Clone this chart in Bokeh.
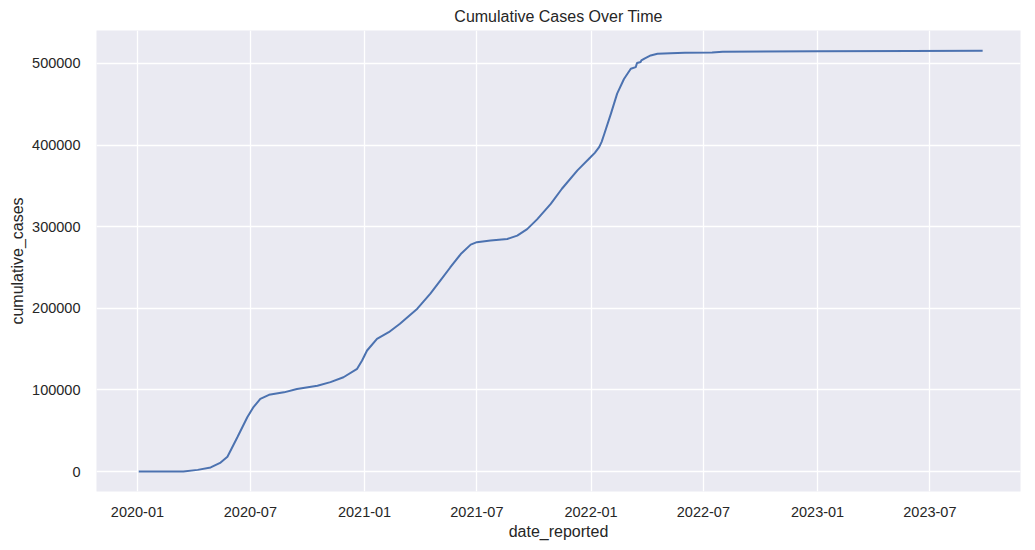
import pandas as pd
from bokeh.plotting import figure
from bokeh.models import FixedTicker, DatetimeTickFormatter, Range1d, NumeralTickFormatter, ColumnDataSource
from bokeh.embed import file_html
from bokeh.resources import INLINE

# ---- data ----
dates = [
    "2020-01-03", "2020-02-15", "2020-03-15", "2020-04-07", "2020-04-28", "2020-05-14",
    "2020-05-25", "2020-06-10", "2020-06-26", "2020-07-06", "2020-07-17", "2020-07-31",
    "2020-08-24", "2020-09-14", "2020-10-17", "2020-11-07", "2020-11-28", "2020-12-20",
    "2020-12-28", "2021-01-05", "2021-01-21", "2021-02-09", "2021-02-27", "2021-03-27",
    "2021-04-17", "2021-05-03", "2021-05-19", "2021-06-05", "2021-06-21", "2021-07-01",
    "2021-07-23", "2021-08-19", "2021-09-04", "2021-09-20", "2021-10-06", "2021-10-28",
    "2021-11-15", "2021-12-10", "2021-12-31", "2022-01-07", "2022-01-14", "2022-01-18",
    "2022-01-22", "2022-02-02", "2022-02-12", "2022-02-23", "2022-03-06", "2022-03-14",
    "2022-03-16", "2022-03-22", "2022-03-23", "2022-03-28", "2022-04-07", "2022-04-18",
    "2022-05-09", "2022-06-01", "2022-07-15", "2022-08-01", "2023-01-01", "2023-06-01",
    "2023-09-24",
]
cumulative_cases = [
    0, 0, 0, 2000, 5000, 11000,
    18000, 42000, 66500, 79000, 89000, 94000,
    97000, 101000, 105000, 109500, 115500, 125800,
    136000, 148300, 162600, 170700, 181000, 199500,
    218000, 234000, 250000, 266500, 278000, 281000,
    283000, 285000, 289000, 297000, 309000, 328000,
    346500, 369000, 385000, 390500, 397500, 404000,
    413000, 438500, 463000, 481000, 493500, 495500,
    500500, 501800, 503700, 506000, 509800, 511800,
    512500, 513000, 513500, 514500, 515000, 515300,
    515600,
]
tick_dates = ["2020-01-01", "2020-07-01", "2021-01-01", "2021-07-01",
              "2022-01-01", "2022-07-01", "2023-01-01", "2023-07-01"]
y_ticks = [0, 100000, 200000, 300000, 400000, 500000]


def to_ms(s):
    return (pd.to_datetime(s) - pd.Timestamp("1970-01-01")) // pd.Timedelta("1ms")


src = ColumnDataSource(dict(x=pd.to_datetime(dates), y=cumulative_cases))

TEXT = "#262626"
FONT = "Liberation Sans"

p = figure(width=1028, height=542, x_axis_type="datetime",
           output_backend="svg", toolbar_location=None,
           title="Cumulative Cases Over Time",
           x_range=Range1d(float(to_ms("2019-10-27")), float(to_ms("2023-11-24"))),
           y_range=Range1d(-24500, 540400),
           min_border_left=96, min_border_right=8, min_border_top=30, min_border_bottom=51)

p.background_fill_color = "#EAEAF2"
p.border_fill_color = "white"
p.outline_line_color = None

p.title.align = "center"
p.title.vertical_align = "top"
p.title.text_font = FONT
p.title.text_font_size = "16px"
p.title.text_font_style = "normal"
p.title.text_color = TEXT
p.title.standoff = 7
p.title.offset = 0

p.line("x", "y", source=src, line_color="#4C72B0", line_width=2)

for g in (p.xgrid, p.ygrid):
    g.grid_line_color = "white"
    g.grid_line_width = 1.3

p.xaxis.ticker = FixedTicker(ticks=[float(to_ms(d)) for d in tick_dates])
p.xaxis.formatter = DatetimeTickFormatter(
    years="%Y-%m", months="%Y-%m", days="%Y-%m", hours="%Y-%m",
    minutes="%Y-%m", seconds="%Y-%m", milliseconds="%Y-%m", microseconds="%Y-%m")
p.yaxis.ticker = FixedTicker(ticks=y_ticks)
p.yaxis.formatter = NumeralTickFormatter(format="0")

p.xaxis.axis_label = "date_reported"
p.yaxis.axis_label = "cumulative_cases"

for ax in (p.xaxis, p.yaxis):
    ax.axis_line_color = None
    ax.major_tick_line_color = None
    ax.minor_tick_line_color = None
    ax.major_label_text_font = FONT
    ax.major_label_text_font_size = "14.5px"
    ax.major_label_text_color = TEXT
    ax.axis_label_text_font = FONT
    ax.axis_label_text_font_size = "16px"
    ax.axis_label_text_font_style = "normal"
    ax.axis_label_text_color = TEXT

p.xaxis.major_label_standoff = 9
p.xaxis.axis_label_standoff = 3
p.yaxis.major_label_standoff = 10
p.yaxis.axis_label_standoff = 3

open("out.html", "w").write(file_html(p, INLINE))
